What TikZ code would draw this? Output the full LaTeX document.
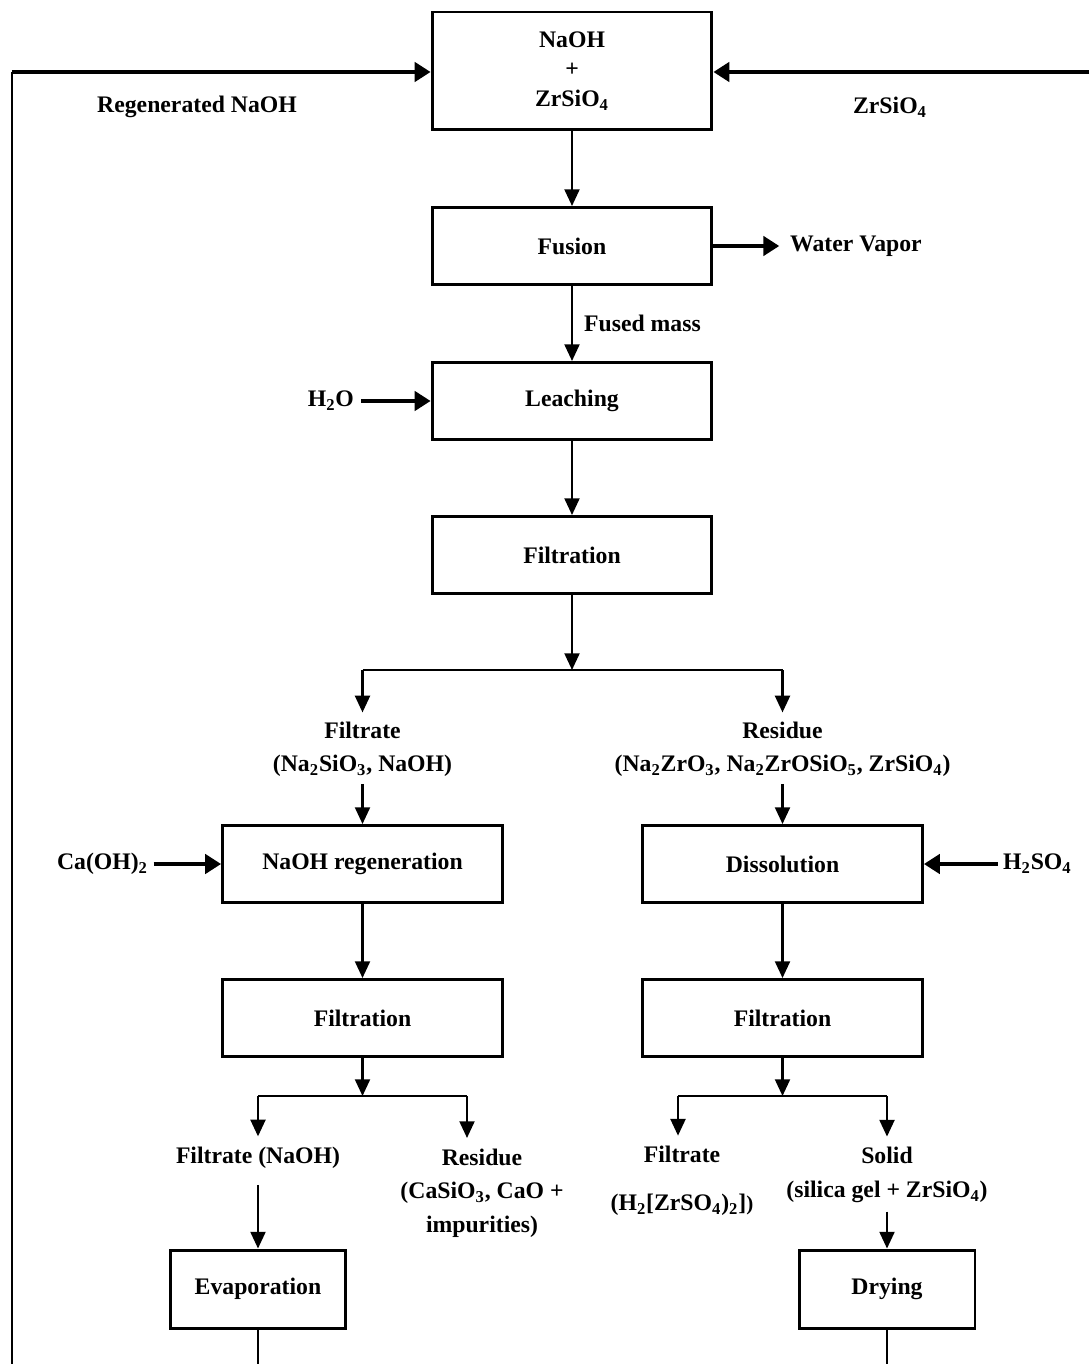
\documentclass[tikz,border=0pt]{standalone}
\usepackage{fontspec}
\setmainfont{Liberation Serif}
\usetikzlibrary{arrows.meta}
\begin{document}
\begin{tikzpicture}[x=0.02cm,y=-0.02cm,
  font=\fontsize{13.5}{19}\selectfont\bfseries,
  stepbox/.style={draw, line width=1.7pt, minimum width=5.6cm, minimum height=1.54cm, inner sep=0pt},
  smallbox/.style={draw, line width=1.7pt, minimum width=3.52cm, minimum height=1.56cm, inner sep=0pt},
  flow/.style={line width=1.3pt, -{Triangle[length=9.5pt,width=8.5pt]}},
  bigflow/.style={line width=1.9pt, -{Triangle[length=9pt,width=11pt]}},
  plain/.style={line width=1.3pt},
  lbl/.style={align=center, inner sep=1pt}]
\useasboundingbox (0,0) rectangle (1089,1364);

% process steps
\node[stepbox, minimum height=2.36cm, align=center] (feed) at (572,71) {NaOH\\[-2pt]+\\[-2pt]ZrSiO\textsubscript{4}};
\node[stepbox] (fusion) at (572,246) {Fusion};
\node[stepbox] (leach) at (572,401) {Leaching};
\node[stepbox] (filt) at (572,555) {Filtration};
\node[stepbox] (regen) at (362.5,864) {NaOH regeneration};
\node[stepbox] (diss) at (782.5,864) {Dissolution};
\node[stepbox] (filtL) at (362.5,1018) {Filtration};
\node[stepbox] (filtR) at (782.5,1018) {Filtration};
\node[smallbox] (evap) at (258,1289) {Evaporation};
\node[smallbox] (dry) at (887,1289) {Drying};

% streams
\node[lbl] (regnaoh) at (197,107) {Regenerated NaOH};
\node[lbl] (zrin) at (890,107) {ZrSiO\textsubscript{4}};
\node[lbl, anchor=west] (vapor) at (788,246) {Water Vapor};
\node[lbl, anchor=west] (fused) at (582,323) {Fused mass};
\node[lbl, anchor=east] (water) at (356,401) {H\textsubscript{2}O};
\node[lbl] (filtrate1) at (362.5,749) {Filtrate\\(Na\textsubscript{2}SiO\textsubscript{3}, NaOH)};
\node[lbl] (residue1) at (782.5,749) {Residue\\(Na\textsubscript{2}ZrO\textsubscript{3}, Na\textsubscript{2}ZrOSiO\textsubscript{5}, ZrSiO\textsubscript{4})};
\node[lbl, anchor=east] (caoh) at (150,864) {Ca(OH)\textsubscript{2}};
\node[lbl, anchor=west] (h2so4) at (1001,864) {H\textsubscript{2}SO\textsubscript{4}};
\node[lbl] (filtrate2) at (258,1158) {Filtrate (NaOH)};
\node[lbl] (residue2) at (482,1193) {Residue\\(CaSiO\textsubscript{3}, CaO +\\impurities)};
\node[lbl] (filtrate3) at (682,1181) {Filtrate\\[8pt](H\textsubscript{2}[ZrSO\textsubscript{4})\textsubscript{2}]{\large)}};
\node[lbl] (solid) at (887,1175) {Solid\\(silica gel + ZrSiO\textsubscript{4})};

% junctions and loop ends
\coordinate (j1) at (572,670);
\coordinate (j1L) at (362.5,670);
\coordinate (j1R) at (782.5,670);
\coordinate (j2) at (362.5,1096);
\coordinate (j2L) at (258,1096);
\coordinate (j2R) at (467,1096);
\coordinate (j3) at (782.5,1096);
\coordinate (j3L) at (678,1096);
\coordinate (j3R) at (887,1096);
\coordinate (loopBot) at (12,1364);
\coordinate (loopTop) at (12,72);
\coordinate (oreIn) at (1089,72);
\coordinate (evapOut) at (258,1364);
\coordinate (dryOut) at (887,1364);

% main line
\draw[flow] (feed) -- (fusion);
\draw[flow] (fusion) -- (leach);
\draw[flow] (leach) -- (filt);
\draw[flow] (filt) -- (j1);
\draw[bigflow] (fusion.east) -- ([xshift=-5pt]vapor.west);
\draw[bigflow, shorten <=3pt] (water) -- (leach);

% recycle and ore feed
\draw[plain] (loopBot) -- (loopTop);
\draw[bigflow] (loopTop) -- (loopTop -| feed.west);
\draw[bigflow] (oreIn) -- (oreIn -| feed.east);

% first split
\draw[plain] (j1L) -- (j1R);
\draw[flow] (j1L) -- ([yshift=4pt]filtrate1.north);
\draw[flow] (j1R) -- ([yshift=4pt]residue1.north);
\draw[flow, shorten <=3pt] (filtrate1) -- (regen);
\draw[flow, shorten <=3pt] (residue1) -- (diss);
\draw[bigflow, shorten <=2pt] (caoh) -- (regen);
\draw[bigflow, shorten <=2pt] (h2so4) -- (diss);
\draw[flow] (regen) -- (filtL);
\draw[flow] (diss) -- (filtR);

% second splits
\draw[flow] (filtL) -- (j2);
\draw[flow] (filtR) -- (j3);
\draw[plain] (j2L) -- (j2R);
\draw[plain] (j3L) -- (j3R);
\draw[flow] (j2L) -- ([yshift=5pt]filtrate2.north);
\draw[flow] (j2R) -- ([yshift=5pt]residue2.north -| j2R);
\draw[flow] (j3L) -- ([yshift=5pt]filtrate3.north -| j3L);
\draw[flow] (j3R) -- ([yshift=5pt]solid.north);
\draw[flow, shorten <=8pt] (filtrate2) -- (evap);
\draw[flow, shorten <=4pt] (solid) -- (dry);
\draw[plain] (evap) -- (evapOut);
\draw[plain] (dry) -- (dryOut);
\end{tikzpicture}
\end{document}
